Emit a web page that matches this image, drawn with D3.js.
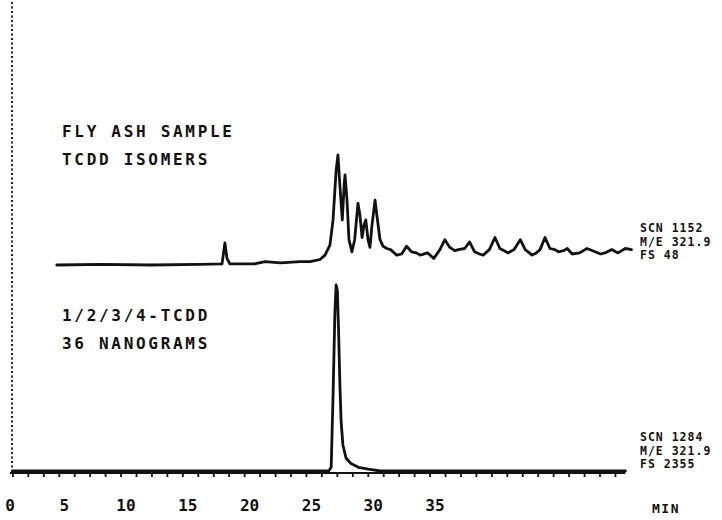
<!DOCTYPE html>
<html>
<head>
<meta charset="utf-8">
<script src="https://cdn.jsdelivr.net/npm/d3@7"></script>
<style>
  html, body { margin: 0; padding: 0; background: #fff; }
  svg { display: block; }
  text { font-family: "DejaVu Sans Mono", monospace; font-weight: bold; fill: #111; }
</style>
</head>
<body>
<div id="chart"></div>
<script>
// Retention time (min) and relative intensity (0-100)
const FLY_TIME = [4.4, 8, 12, 16, 17.77, 18.0, 18.17, 18.4, 20.4, 21.25, 22.5, 24.1, 24.9, 25.7, 26.1,
  26.5, 26.75, 27.0, 27.15, 27.3, 27.5, 27.65, 27.72, 27.88, 28.04, 28.28, 28.5, 28.77, 28.93, 29.1,
  29.25, 29.4, 29.58, 29.74, 29.9, 30.15, 30.3, 30.55, 30.8, 31.1, 31.4, 31.9, 32.3, 32.7, 33.1, 33.5, 33.8, 34.4,
  34.9, 35.4, 35.8, 36.2, 36.6, 36.9, 37.4, 37.8, 38.2, 38.6, 38.9, 39.4, 39.85, 40.25, 40.6, 40.9, 41.4, 41.9, 42.3,
  42.85, 43.2, 43.5, 43.9, 44.3, 44.7, 45.0, 45.4, 45.7, 46.1, 46.7, 47.3, 47.95, 48.4, 48.75, 49.3, 49.8, 50.4, 50.9];
const FLY_INT = [0, 0.5, 0, 0.5, 1, 20, 6, 1, 1, 3, 2, 3, 3, 5, 9,
  18, 41, 86, 100, 73, 41, 73, 82, 59, 23, 12, 23, 56, 45, 25,
  36, 41, 23, 16, 36, 59, 45, 23, 17, 15, 14, 9, 10, 17, 12, 11, 9, 11,
  6, 14, 23, 16, 13, 14, 15, 21, 12, 10, 9, 14, 25, 15, 13, 11, 14, 23, 14,
  9, 11, 14, 25, 15, 14, 12, 13, 15, 10, 11, 15, 12, 10, 11, 14, 11, 15, 14];

const STD_TIME = [0.8, 10, 20, 26.4, 26.6, 26.75, 26.9, 27.0, 27.1, 27.2, 27.3, 27.4, 27.55, 27.8,
  28.2, 28.8, 29.6, 30.6, 40, 50.4];
const STD_INT = [0, 0, 0, 0, 2, 40, 85, 100, 97, 75, 48, 27, 14, 7, 4, 2, 1, 0, 0, 0];

const TICK_LABELS = [0, 5, 10, 15, 20, 25, 30, 35];
const FLY_TEXT = ["FLY ASH SAMPLE", "TCDD ISOMERS"];
const STD_TEXT = ["1/2/3/4-TCDD", "36 NANOGRAMS"];
const FLY_INFO = ["SCN 1152", "M/E 321.9", "FS 48"];
const STD_INFO = ["SCN 1284", "M/E 321.9", "FS 2355"];

const width = 722, height = 520;
const svg = d3.select("#chart").append("svg")
  .attr("width", width)
  .attr("height", height)
  .attr("viewBox", [0, 0, width, height]);

const x = d3.scaleLinear().domain([0, 35]).range([2.4, 435]);
const yFly = d3.scaleLinear().domain([0, 100]).range([265, 155]);
const yStd = d3.scaleLinear().domain([0, 100]).range([471, 285]);
const axisY = 473;

// dotted left edge of the recorder chart
svg.append("line")
  .attr("x1", 12).attr("x2", 12)
  .attr("y1", 2).attr("y2", axisY)
  .attr("stroke", "#222")
  .attr("stroke-width", 2)
  .attr("stroke-dasharray", "2,2.5");

// time axis
svg.append("line")
  .attr("x1", 10).attr("x2", x(50.4))
  .attr("y1", axisY).attr("y2", axisY)
  .attr("stroke", "#111")
  .attr("stroke-width", 2.2);

svg.append("g").selectAll("line")
  .data(d3.range(0.85, 50.4, 1.25))
  .join("line")
  .attr("x1", d => x(d)).attr("x2", d => x(d))
  .attr("y1", axisY).attr("y2", axisY + 4)
  .attr("stroke", "#111")
  .attr("stroke-width", 1.8);

svg.append("g").selectAll("text")
  .data(TICK_LABELS)
  .join("text")
  .attr("x", d => Math.max(10, x(d)))
  .attr("y", 511)
  .attr("text-anchor", "middle")
  .attr("font-size", "16px")
  .text(d => d);

svg.append("text")
  .attr("x", 666).attr("y", 513)
  .attr("text-anchor", "middle")
  .attr("font-size", "13px")
  .attr("letter-spacing", "1.5px")
  .text("MIN");

// traces
function drawTrace(times, values, y) {
  const pts = times.map((t, i) => [x(t), y(values[i])]);
  svg.append("path")
    .attr("d", d3.line()(pts))
    .attr("fill", "none")
    .attr("stroke", "#111")
    .attr("stroke-width", 2.8)
    .attr("stroke-linejoin", "round")
    .attr("stroke-linecap", "round");
}
drawTrace(FLY_TIME, FLY_INT, yFly);
drawTrace(STD_TIME, STD_INT, yStd);

// sample titles
function drawTitle(lines, y0) {
  lines.forEach((s, i) => {
    svg.append("text")
      .attr("x", 62)
      .attr("y", y0 + i * 28)
      .attr("font-size", "16px")
      .attr("letter-spacing", "2.7px")
      .text(s);
  });
}
drawTitle(FLY_TEXT, 137);
drawTitle(STD_TEXT, 321);

// scan info at right end of each trace
function drawInfo(lines, y0) {
  lines.forEach((s, i) => {
    svg.append("text")
      .attr("x", 640)
      .attr("y", y0 + i * 13.5)
      .attr("font-size", "11.5px")
      .attr("letter-spacing", "1px")
      .text(s);
  });
}
drawInfo(FLY_INFO, 232);
drawInfo(STD_INFO, 441);
</script>
</body>
</html>
